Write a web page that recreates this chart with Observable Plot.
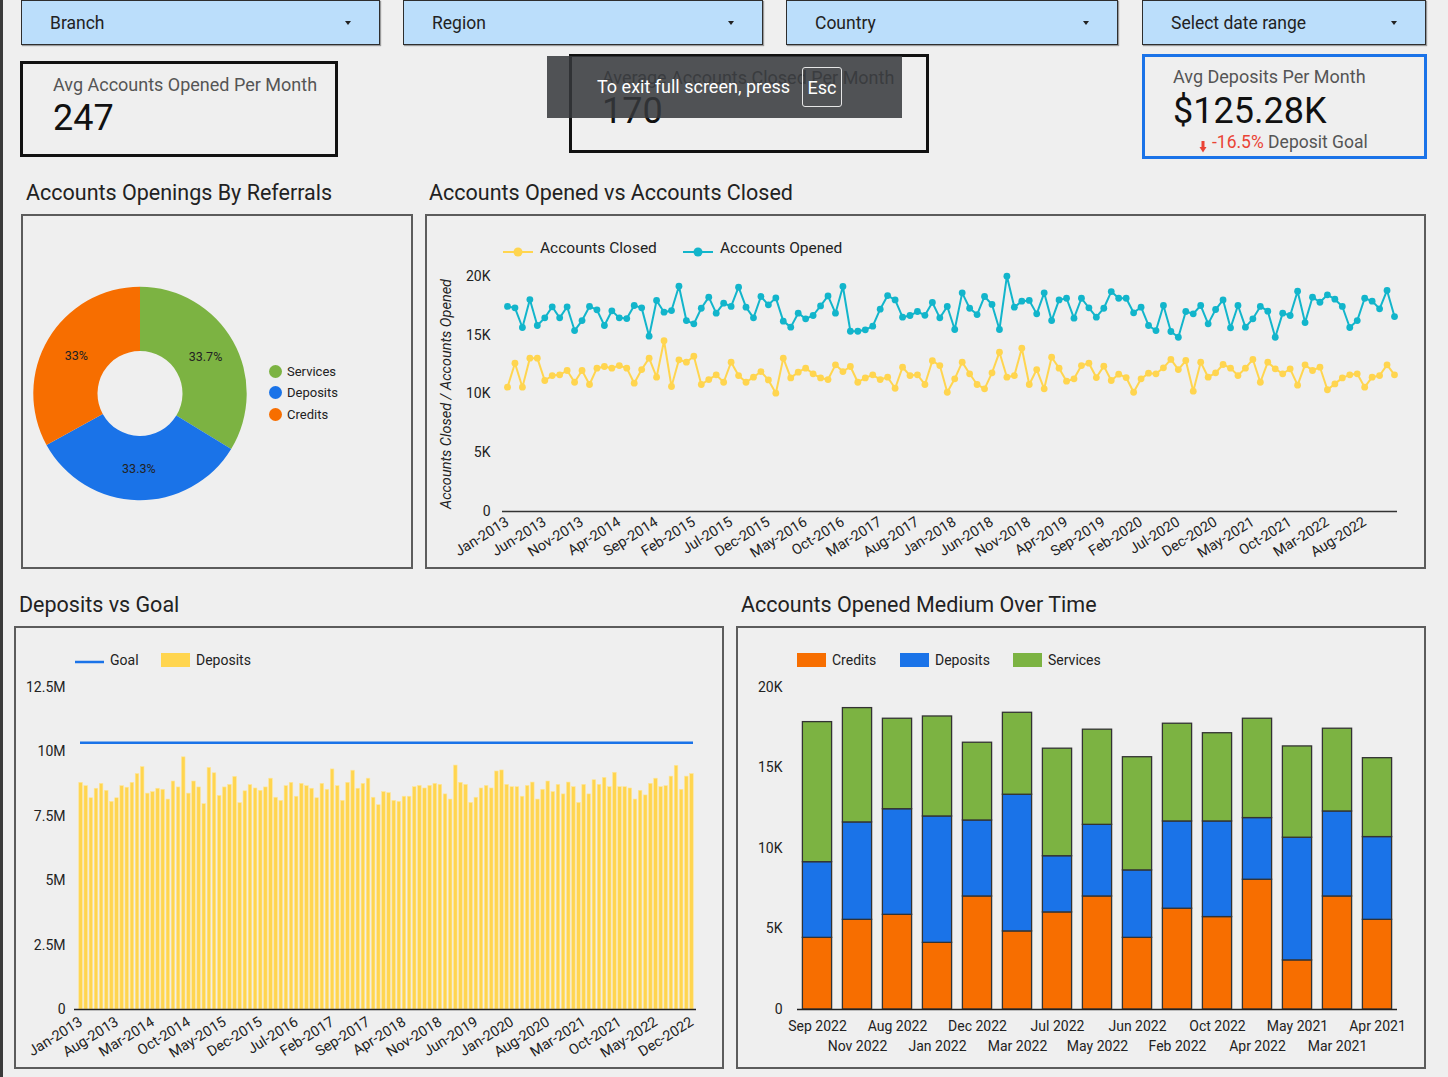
<!DOCTYPE html>
<html>
<head>
<meta charset="utf-8">
<title>Bank Accounts Dashboard</title>
<script src="https://cdn.jsdelivr.net/npm/d3@7"></script>
<script src="https://cdn.jsdelivr.net/npm/@observablehq/plot@0.6"></script>
<style>
  html, body { margin: 0; padding: 0; }
  body { position: relative; width: 1448px; height: 1077px; overflow: hidden; background: #efefef;
         font-family: Roboto, "Noto Sans", sans-serif; color: #222; }
  .t { position: absolute; white-space: nowrap; line-height: 1; }
  .filter { position: absolute; top: 0; height: 45px; box-sizing: border-box; background: #bbdefb;
            border: 1px solid #2e2e2e; box-shadow: 1px 1px 1px rgba(0,0,0,0.35); }
  .caret { position: absolute; top: 21px; width: 0; height: 0; border-left: 3.5px solid transparent;
           border-right: 3.5px solid transparent; border-top: 4px solid #222; }
  .kpi { position: absolute; box-sizing: border-box; border: 3px solid #111; }
  .panel { position: absolute; box-sizing: border-box; border: 2px solid #5c5c5c; pointer-events: none; }
  .chart { position: absolute; }
  .chart svg { display: block; overflow: visible; }
  .swatch { position: absolute; }
</style>
</head>
<body>
<script>
// ---------- data ----------
const filterLabels = ["Branch", "Region", "Country", "Select date range"];

const avgOpenedPerMonth = "247";
const avgClosedPerMonth = "170";
const avgDepositsPerMonth = "$125.28K";
const depositGoalDelta = "-16.5%";

// Share of account openings by referral medium
const referralMediums = ["Services", "Deposits", "Credits"];
const referralShares = [0.337, 0.333, 0.33];

// Monthly series, Jan 2013 .. Dec 2022
const firstMonth = new Date(Date.UTC(2013, 0, 1));
const accountsOpened = [
  17450, 17330, 15660, 18040, 15830, 16480, 17420, 16480, 17420, 15400, 16250, 17450,
  17160, 15830, 17080, 16480, 16420, 17530, 17330, 14920, 17960, 16960, 17100, 19170,
  16250, 15970, 17300, 18240, 16880, 17730, 17450, 19090, 17390, 16480, 18300, 17590,
  18180, 16200, 15690, 16880, 16400, 16680, 17500, 18350, 16880, 19150, 15340, 15340,
  15460, 15770, 17220, 18380, 18010, 16540, 16680, 17020, 16700, 17790, 16480, 17450,
  15490, 18610, 17300, 16760, 18300, 17620, 15490, 20030, 17390, 17900, 17960, 16820,
  18610, 16250, 18010, 18150, 16450, 18150, 17330, 16540, 17300, 18720, 18150, 18150,
  16910, 17390, 15830, 15400, 17530, 15320, 14830, 17020, 16820, 17530, 15970, 17190,
  18010, 15630, 17530, 15690, 16400, 17450, 17050, 14830, 16880, 16680, 18750, 16080,
  18240, 17810, 18440, 18070, 17450, 15660, 16250, 18150, 17900, 17250, 18810, 16590
];
const accountsClosed = [
  10580, 12620, 10580, 13050, 13050, 11150, 11570, 11630, 12000, 11000, 12000, 10810,
  12200, 12340, 12200, 12420, 12200, 10920, 12080, 13050, 11430, 14530, 10640, 12910,
  12710, 13220, 10810, 11230, 11630, 11000, 12710, 11570, 11000, 11430, 11910, 11200,
  10070, 13050, 11370, 11860, 12200, 11720, 11370, 11230, 12480, 11910, 12340, 11000,
  11370, 11630, 11230, 11430, 10490, 12280, 11570, 11630, 10810, 12830, 12420, 10150,
  11290, 12710, 11720, 10810, 10440, 11800, 13560, 11430, 11570, 13900, 10810, 12080,
  10440, 13130, 12200, 11090, 11290, 12420, 12620, 11400, 12370, 11150, 11690, 11400,
  10150, 11290, 11770, 11720, 12230, 12940, 12080, 12850, 10240, 12710, 11430, 11800,
  12510, 12200, 11570, 12200, 12940, 11000, 12710, 12140, 11720, 12140, 10750, 12480,
  12000, 12280, 10360, 10860, 11370, 11630, 11720, 10580, 11430, 11570, 12480, 11630
];
const depositsMillions = [
  8.80, 8.67, 8.20, 8.57, 8.76, 8.49, 8.06, 8.20, 8.67, 8.61, 8.80, 9.14,
  9.41, 8.38, 8.44, 8.57, 8.53, 8.15, 8.85, 8.62, 9.79, 8.38, 8.85, 8.62,
  7.97, 9.38, 9.17, 8.29, 8.62, 8.72, 9.03, 8.01, 8.47, 8.71, 8.58, 8.49,
  8.62, 8.96, 8.22, 8.10, 8.67, 8.80, 8.26, 8.76, 8.67, 8.57, 8.20, 8.76,
  8.53, 9.32, 8.67, 8.10, 8.80, 9.27, 8.57, 8.76, 8.96, 8.22, 7.93, 8.44,
  8.40, 8.10, 8.06, 8.26, 8.26, 8.63, 8.68, 8.58, 8.68, 8.76, 8.72, 8.35,
  8.15, 9.47, 8.80, 8.72, 8.02, 8.22, 8.58, 8.68, 8.58, 9.24, 9.28, 8.72,
  8.63, 8.63, 8.26, 8.68, 8.81, 8.15, 8.53, 8.85, 8.44, 8.72, 8.35, 8.81,
  8.63, 8.02, 8.72, 8.35, 8.90, 8.72, 8.99, 8.63, 9.19, 8.63, 8.63, 8.58,
  8.15, 8.49, 8.31, 8.76, 8.96, 8.63, 8.67, 9.04, 9.46, 8.53, 9.04, 9.14
];
const depositGoalMillions = 10.36;

// Accounts opened by medium, per month
const mediumMonths = ["Sep 2022", "Nov 2022", "Aug 2022", "Jan 2022", "Dec 2022", "Mar 2022", "Jul 2022",
  "May 2022", "Jun 2022", "Feb 2022", "Oct 2022", "Apr 2022", "May 2021", "Mar 2021", "Apr 2021"];
const creditsOpened  = [4450, 5570, 5880, 4140, 7020, 4850, 6030, 7020, 4450, 6260, 5740, 8060, 3050, 7020, 5570];
const depositsOpened = [4700, 6050, 6560, 7850, 4720, 8490, 3490, 4450, 4190, 5420, 5940, 3830, 7620, 5280, 5140];
const servicesOpened = [8700, 7100, 5620, 6210, 4830, 5090, 6680, 5910, 7030, 6070, 5480, 6170, 5670, 5140, 4900];

// ---------- palette ----------
const GREEN = "#7cb342", BLUE = "#1a73e8", ORANGE = "#f76e00";
const TEAL = "#12b5cb", YELLOW = "#ffd54f";
const FONT = "Roboto, 'Noto Sans', sans-serif";

// ---------- page helpers ----------
const page = document.body;
function el(tag, cls, css, html) {
  const e = document.createElement(tag);
  if (cls) e.className = cls;
  if (css) e.style.cssText = css;
  if (html != null) e.innerHTML = html;
  page.appendChild(e);
  return e;
}
// place a line of text by its left edge and baseline
function text(x, base, size, html, css = "") {
  return el("div", "t", `left:${x}px;top:${(base - 0.842 * size).toFixed(1)}px;font-size:${size}px;${css}`, html);
}
function box(cls, x, y, w, h, css = "") {
  return el("div", cls, `left:${x}px;top:${y}px;width:${w}px;height:${h}px;${css}`);
}
function mount(node, x, y) {
  const holder = el("div", "chart", `left:${x}px;top:${y}px;`);
  holder.appendChild(node);
}
const baseStyle = {background: "transparent", fontFamily: FONT, fontSize: "13px", color: "#222", overflow: "visible"};

// ---------- frame ----------
el("div", null, "position:absolute;left:0;top:0;width:3px;height:1077px;background:#3a3a3a;");

// filter bar
const filterBoxes = [[21, 359], [403, 360], [786, 332], [1142, 284]];
filterBoxes.forEach(([x, w], i) => {
  box("filter", x, 0, w, 45);
  text(x + 29, 30, 17.5, filterLabels[i]);
  box("caret", x + w - 35, 21, 0, 0);
});

// scorecards
box("kpi", 20, 61, 318, 96);
text(53, 91, 18, "Avg Accounts Opened Per Month", "color:#555;");
text(53, 130, 36, avgOpenedPerMonth, "color:#111;");

box("kpi", 569, 54, 360, 99);
text(602, 84, 18, "Average Accounts Closed Per Month", "color:#555;");
text(602, 123, 36, avgClosedPerMonth, "color:#111;");

box("kpi", 1142, 54, 285, 105, "border-color:" + BLUE + ";");
text(1173, 83.5, 18, "Avg Deposits Per Month", "color:#555;");
text(1173, 123.5, 36, avgDepositsPerMonth, "color:#111;");
el("div", null, "position:absolute;left:1199px;top:138px;width:8px;height:12px;",
  `<svg width="8" height="12"><rect x="2.5" y="0" width="3" height="7" fill="#ea4335"/><path d="M0.5 6 L7.5 6 L4 11.5 Z" fill="#ea4335"/></svg>`);
text(1212, 149, 17.5, `<span style="color:#ea4335">${depositGoalDelta}</span><span style="color:#555"> Deposit Goal</span>`);

// full-screen notice
el("div", null, "position:absolute;left:547px;top:56px;width:355px;height:62px;background:rgba(53,56,59,0.86);");
text(597, 93.6, 18, "To exit full screen, press", "color:#fff;");
el("div", null, "position:absolute;left:802px;top:67px;width:40px;height:40px;box-sizing:border-box;border:1px solid #e6e6e6;border-radius:3px;color:#fff;font-size:18px;display:flex;align-items:center;justify-content:center;", "Esc");

// section titles
text(26, 200, 21.5, "Accounts Openings By Referrals");
text(429, 200, 21.5, "Accounts Opened vs Accounts Closed");
text(19, 612, 21.5, "Deposits vs Goal");
text(741, 612, 21.5, "Accounts Opened Medium Over Time");

// ---------- donut: openings by referral ----------
const referralRows = referralMediums.map((medium, i) => ({medium, share: referralShares[i]}));
const pieArcs = d3.pie().sort(null).value(d => d.share)(referralRows);
const arcPath = d3.arc().innerRadius(42.5).outerRadius(106.7);
const referralColor = Plot.scale({color: {domain: referralMediums, range: [GREEN, BLUE, ORANGE]}});
const pct = d3.format(".3~p");

const donut = Plot.plot({
  width: 392, height: 355, margin: 0,
  x: {domain: [-119, 273], axis: null},
  y: {domain: [-175.5, 179.5], axis: null},
  style: baseStyle,
  marks: [
    (index, scales) => {
      const g = d3.create("svg:g").attr("transform", `translate(${scales.x(0)},${scales.y(0)})`);
      g.selectAll("path").data(pieArcs).join("path")
        .attr("d", arcPath)
        .attr("fill", d => referralColor.apply(d.data.medium));
      return g.node();
    },
    Plot.text(pieArcs, {
      x: d => arcPath.centroid(d)[0],
      y: d => -arcPath.centroid(d)[1],
      text: d => pct(d.data.share),
      fontSize: 12.5, fill: "#222"
    })
  ]
});
mount(donut, 21, 214);
box("panel", 21, 214, 392, 355);
referralMediums.forEach((m, i) => {
  const cy = 371 + i * 21.6;
  el("div", "swatch", `left:${268.5}px;top:${cy - 6.5}px;width:13px;height:13px;border-radius:50%;background:${referralColor.apply(m)};`);
  text(287, cy + 4.6, 13, m);
});

// ---------- line chart: opened vs closed ----------
const monthFormat = d3.utcFormat("%b-%Y");
const monthDates = d3.utcMonths(firstMonth, d3.utcMonth.offset(firstMonth, accountsOpened.length));
const months = monthDates.map(monthFormat);
const accountRows = months.map((month, i) => ({month, opened: accountsOpened[i], closed: accountsClosed[i]}));
const fmtK = d => d === 0 ? "0" : d / 1000 + "K";

const lineChart = Plot.plot({
  width: 1001, height: 355,
  marginLeft: 82, marginRight: 32, marginTop: 62, marginBottom: 58,
  style: baseStyle,
  x: {type: "point", domain: months, padding: 0, round: false},
  y: {domain: [0, 20000]},
  marks: [
    Plot.ruleY([0], {stroke: "#333", strokeWidth: 1.5, insetLeft: -5, insetRight: -3}),
    Plot.axisY({ticks: [0, 5000, 10000, 15000, 20000], tickFormat: fmtK, tickSize: 0, tickPadding: 17, fontSize: 14, label: null}),
    Plot.axisX({ticks: months.filter((d, i) => i % 5 === 0), tickSize: 0, tickPadding: 9, tickRotate: -32, fontSize: 14.5, label: null}),
    Plot.text(["Accounts Closed / Accounts Opened"], {text: d => d, frameAnchor: "left", textAnchor: "middle", rotate: -90, dx: -61, fontStyle: "italic", fontSize: 14.5, fill: "#222"}),
    Plot.line(accountRows, {x: "month", y: "closed", stroke: YELLOW, strokeWidth: 2}),
    Plot.dot(accountRows, {x: "month", y: "closed", r: 3.4, fill: YELLOW}),
    Plot.line(accountRows, {x: "month", y: "opened", stroke: TEAL, strokeWidth: 2}),
    Plot.dot(accountRows, {x: "month", y: "opened", r: 3.4, fill: TEAL})
  ]
});
mount(lineChart, 425, 214);
box("panel", 425, 214, 1001, 355);
[[503, YELLOW, "Accounts Closed"], [683, TEAL, "Accounts Opened"]].forEach(([x, c, label]) => {
  el("div", "swatch", `left:${x}px;top:243px;width:30px;height:12px;`,
    `<svg width="30" height="12"><line x1="0" x2="30" y1="6" y2="6" stroke="${c}" stroke-width="2"/><circle cx="15" cy="6" r="4.5" fill="${c}"/></svg>`);
  text(x + 37, 254.5, 15.5, label);
});

// ---------- deposits vs goal ----------
const depositRows = months.map((month, i) => ({month, deposits: depositsMillions[i]}));
const fmtM = d => d === 0 ? "0" : d + "M";

const depositChart = Plot.plot({
  width: 710, height: 443,
  marginLeft: 64, marginRight: 30, marginTop: 61, marginBottom: 60,
  style: baseStyle,
  x: {type: "band", domain: months, paddingInner: 0.3, paddingOuter: 0.15, round: false},
  y: {domain: [0, 12.5]},
  marks: [
    Plot.barY(depositRows, {x: "month", y: "deposits", fill: YELLOW, stroke: "#ffe69a", strokeWidth: 0.6}),
    Plot.ruleY([0], {stroke: "#222", strokeWidth: 1.5, insetLeft: -4, insetRight: -2}),
    Plot.ruleY([depositGoalMillions], {stroke: BLUE, strokeWidth: 2.5, insetLeft: 2, insetRight: 1}),
    Plot.axisY({ticks: [0, 2.5, 5, 7.5, 10, 12.5], tickFormat: fmtM, tickSize: 0, tickPadding: 13, fontSize: 14, label: null}),
    Plot.axisX({ticks: months.filter((d, i) => i % 7 === 0), tickSize: 0, tickPadding: 11, tickRotate: -32, fontSize: 14.5, label: null})
  ]
});
mount(depositChart, 14, 626);
box("panel", 14, 626, 710, 443);
el("div", "swatch", "left:75px;top:653px;width:29px;height:12px;",
  `<svg width="29" height="12"><line x1="0" x2="29" y1="6" y2="6" stroke="${BLUE}" stroke-width="2.5"/></svg>`);
text(110, 664.5, 14, "Goal");
el("div", "swatch", `left:161px;top:652.5px;width:29px;height:14px;background:${YELLOW};`);
text(196, 664.5, 14, "Deposits");

// ---------- accounts opened by medium ----------
const mediumNames = ["Credits", "Deposits", "Services"];
const mediumRows = mediumMonths.flatMap((month, i) => [
  {month, medium: "Credits", value: creditsOpened[i]},
  {month, medium: "Deposits", value: depositsOpened[i]},
  {month, medium: "Services", value: servicesOpened[i]}
]);

const mediumChart = Plot.plot({
  width: 690, height: 443,
  marginLeft: 61, marginRight: 29, marginTop: 61, marginBottom: 60,
  style: baseStyle,
  x: {type: "band", domain: mediumMonths, paddingInner: 0.27, paddingOuter: 0.135, round: false},
  y: {domain: [0, 20000]},
  color: {domain: mediumNames, range: [ORANGE, BLUE, GREEN]},
  marks: [
    Plot.barY(mediumRows, {x: "month", y: "value", fill: "medium", stroke: "#333", strokeWidth: 1.3}),
    Plot.ruleY([0], {stroke: "#222", strokeWidth: 1.5}),
    Plot.axisY({ticks: [0, 5000, 10000, 15000, 20000], tickFormat: fmtK, tickSize: 0, tickPadding: 15, fontSize: 14, label: null}),
    Plot.axisX({ticks: mediumMonths.filter((d, i) => i % 2 === 0), tickSize: 0, tickPadding: 12, fontSize: 14, label: null}),
    Plot.axisX({ticks: mediumMonths.filter((d, i) => i % 2 === 1), tickSize: 0, tickPadding: 32, fontSize: 14, label: null})
  ]
});
mount(mediumChart, 736, 626);
box("panel", 736, 626, 690, 443);
const mediumColor = Plot.scale({color: {domain: mediumNames, range: [ORANGE, BLUE, GREEN]}});
[[796.5, 832], [899.5, 935], [1013, 1048]].forEach(([sx, tx], i) => {
  el("div", "swatch", `left:${sx}px;top:652.5px;width:29px;height:14px;background:${mediumColor.apply(mediumNames[i])};`);
  text(tx, 664.5, 14, mediumNames[i]);
});
</script>
</body>
</html>
